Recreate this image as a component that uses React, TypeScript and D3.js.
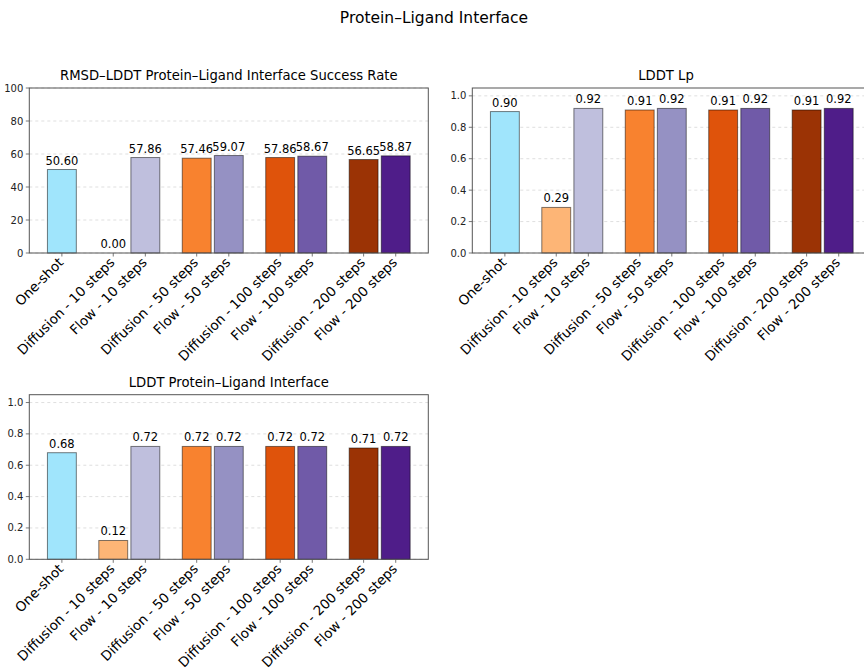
import React from "react";
import * as d3 from "d3";

const categories = [
  "One-shot",
  "Diffusion - 10 steps",
  "Flow - 10 steps",
  "Diffusion - 50 steps",
  "Flow - 50 steps",
  "Diffusion - 100 steps",
  "Flow - 100 steps",
  "Diffusion - 200 steps",
  "Flow - 200 steps",
];
const positions = [0, 1.6, 2.6, 4.2, 5.2, 6.8, 7.8, 9.4, 10.4];
const colors = [
  "#a0e5fc",
  "#fdb576",
  "#bfbfdd",
  "#f8822f",
  "#9591c3",
  "#df530b",
  "#705aa8",
  "#9b3305",
  "#4f1d89",
];
const successRate = [50.6, 0.0, 57.86, 57.46, 59.07, 57.86, 58.67, 56.65, 58.87];
const lddtLp = [0.9, 0.29, 0.92, 0.91, 0.92, 0.91, 0.92, 0.91, 0.92];
const lddtPli = [0.68, 0.12, 0.72, 0.72, 0.72, 0.72, 0.72, 0.71, 0.72];
const successTicks = [0, 20, 40, 60, 80, 100];
const fracTicks = [0, 0.2, 0.4, 0.6, 0.8, 1.0];

const FONT = "DejaVu Sans, sans-serif";

type PanelProps = {
  x0: number;
  x1: number;
  y0: number;
  y1: number;
  title: string;
  titleX?: number;
  values: number[];
  yMax: number;
  ticks: number[];
  tickFmt: (v: number) => string;
};

function Panel({ x0, x1, y0, y1, title, titleX, values, yMax, ticks, tickFmt }: PanelProps) {
  const x = d3.scaleLinear().domain([-1.015, 11.415]).range([x0, x1]);
  const y = d3.scaleLinear().domain([0, yMax]).range([y1, y0]);
  const bw = x(0.9) - x(0);
  return (
    <g>
      {ticks.map((t) => (
        <line
          key={"g" + t}
          x1={x0}
          x2={x1}
          y1={y(t)}
          y2={y(t)}
          stroke="#b0b0b0"
          strokeOpacity={0.5}
          strokeDasharray="3,3"
          strokeWidth={0.8}
        />
      ))}
      {values.map((v, i) => (
        <rect
          key={"b" + i}
          x={x(positions[i]) - bw / 2}
          y={y(v)}
          width={bw}
          height={y1 - y(v)}
          fill={colors[i]}
          stroke="#000"
          strokeOpacity={0.5}
          strokeWidth={1}
        />
      ))}
      {values.map((v, i) => (
        <text
          key={"v" + i}
          x={x(positions[i])}
          y={y(v) - 5}
          textAnchor="middle"
          fontSize={11.5}
          fontFamily={FONT}
          fill="#000"
        >
          {v.toFixed(2)}
        </text>
      ))}
      <rect x={x0} y={y0} width={x1 - x0} height={y1 - y0} fill="none" stroke="#555" strokeWidth={1} />
      {ticks.map((t) => (
        <g key={"t" + t}>
          <line x1={x0 - 3.5} x2={x0} y1={y(t)} y2={y(t)} stroke="#555" strokeWidth={0.8} />
          <text
            x={x0 - 6}
            y={y(t)}
            dy="0.35em"
            textAnchor="end"
            fontSize={10}
            fontFamily={FONT}
            fill="#222"
          >
            {tickFmt(t)}
          </text>
        </g>
      ))}
      {categories.map((c, i) => (
        <g key={"c" + i}>
          <line
            x1={x(positions[i])}
            x2={x(positions[i])}
            y1={y1}
            y2={y1 + 3.5}
            stroke="#555"
            strokeWidth={0.8}
          />
          <text
            transform={`translate(${x(positions[i]) - 1},${y1 + 7}) rotate(-45)`}
            textAnchor="end"
            dy="0.35em"
            fontSize={13.5}
            fontFamily={FONT}
            fill="#000"
          >
            {c}
          </text>
        </g>
      ))}
      <text
        x={titleX ?? (x0 + x1) / 2}
        y={y0 - 8}
        textAnchor="middle"
        fontSize={13.2}
        fontFamily={FONT}
        fill="#000"
      >
        {title}
      </text>
    </g>
  );
}

export default function App() {
  return (
    <svg
      width={864}
      height={669}
      style={{ position: "fixed", left: 0, top: 0, display: "block", background: "#fff" }}
    >
      <rect x={0} y={0} width={864} height={669} fill="#fff" />
      <text x={434} y={23} textAnchor="middle" fontSize={15.5} fontFamily={FONT} fill="#000">
        Protein–Ligand Interface
      </text>
      <Panel
        x0={29.3}
        x1={428.3}
        y0={88}
        y1={253}
        title="RMSD–LDDT Protein–Ligand Interface Success Rate"
        values={successRate}
        yMax={100}
        ticks={successTicks}
        tickFmt={(v) => d3.format("d")(v)}
      />
      <Panel
        x0={472.3}
        x1={871.3}
        y0={88}
        y1={253}
        title="LDDT Lp"
        titleX={666}
        values={lddtLp}
        yMax={1.05}
        ticks={fracTicks}
        tickFmt={(v) => d3.format(".1f")(v)}
      />
      <Panel
        x0={29.3}
        x1={428.3}
        y0={394.7}
        y1={559.3}
        title="LDDT Protein–Ligand Interface"
        values={lddtPli}
        yMax={1.05}
        ticks={fracTicks}
        tickFmt={(v) => d3.format(".1f")(v)}
      />
    </svg>
  );
}
